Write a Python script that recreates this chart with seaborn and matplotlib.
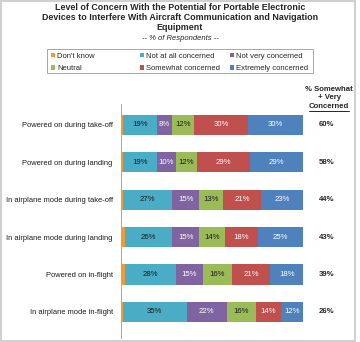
import matplotlib
matplotlib.use("Agg")
import matplotlib.pyplot as plt
from matplotlib.patches import Patch, Rectangle
from matplotlib.lines import Line2D
import seaborn as sns
import pandas as pd
import numpy as np

categories = [
    "Powered on during take-off",
    "Powered on during landing",
    "In airplane mode during take-off",
    "In airplane mode during landing",
    "Powered on in-flight",
    "In airplane mode in-flight",
]
series_names = ["Don't know", "Not at all concerned", "Not very concerned",
                "Neutral", "Somewhat concerned", "Extremely concerned"]
dont_know = [1, 1, 1, 2, 2, 1]
not_at_all = [19, 19, 27, 26, 28, 35]
not_very = [8, 10, 15, 15, 15, 22]
neutral = [12, 12, 13, 14, 16, 16]
somewhat = [30, 29, 21, 18, 21, 14]
extremely = [30, 29, 23, 25, 18, 12]
somewhat_very = ["60%", "58%", "44%", "43%", "39%", "26%"]

colors = ["#F59A2C", "#4BACC6", "#8064A2", "#9BBB59", "#C0504D", "#4F81BD"]
text_colors = [None, "#1a1a1a", "white", "#1a1a1a", "white", "white"]

sns.set_style("white")
plt.rcParams["font.family"] = ["Liberation Sans", "DejaVu Sans"]

series = [dont_know, not_at_all, not_very, neutral, somewhat, extremely]
df = pd.DataFrame({"cat": categories})
cum = np.zeros(len(categories))
lefts = []
for s in series:
    lefts.append(cum.copy())
    cum = cum + np.array(s)

fig = plt.figure(figsize=(3.6, 3.42), dpi=100)
W, H = 360, 342
ax = fig.add_axes([121 / W, 1 - 338 / H, (303 - 121) / W, (338 - 104) / H])

# draw cumulative layers from the total down so each shows its segment
for i in range(len(series) - 1, -1, -1):
    df["v"] = lefts[i] + np.array(series[i])
    sns.barplot(data=df, x="v", y="cat", color=colors[i], orient="h",
                width=0.54, ax=ax, saturation=1, linewidth=0, zorder=2 + (len(series) - i))

for i, s in enumerate(series):
    if i == 0:
        continue
    for j, v in enumerate(s):
        ax.text(lefts[i][j] + v / 2, j, f"{v}%", ha="center", va="center",
                fontsize=5.6, color=text_colors[i], zorder=20)

for j, t in enumerate(somewhat_very):
    ax.text(113, j, t, ha="center", va="center", fontsize=5.6,
            fontweight="bold", clip_on=False)

ax.set_xlim(0, 100)
ax.set_ylim(5.70, -0.56)
ax.set_xlabel("")
ax.set_ylabel("")
ax.set_xticks([])
ax.set_yticks(range(len(categories)))
ax.set_yticklabels(categories, fontsize=5.4, color="#1a1a1a")
ax.tick_params(axis="y", which="major", length=0, pad=6)
ax.set_yticks(np.arange(-0.5, len(categories), 1.0), minor=True)
ax.tick_params(axis="y", which="minor", length=2.5, color="#999999", width=0.6)
for sp in ["top", "right", "bottom"]:
    ax.spines[sp].set_visible(False)
ax.spines["left"].set_color("#999999")
ax.spines["left"].set_linewidth(0.6)

# header of right column
hx = 329 / W
fig.text(hx, 1 - 89 / H, "% Somewhat", ha="center", va="center", fontsize=5.6, fontweight="bold")
fig.text(hx, 1 - 98 / H, "+ Very", ha="center", va="center", fontsize=5.6, fontweight="bold")
fig.text(hx, 1 - 106.5 / H, "Concerned", ha="center", va="center", fontsize=5.6, fontweight="bold")
fig.add_artist(Line2D([309 / W, 349 / W], [1 - 111 / H, 1 - 111 / H], color="black", lw=0.6))

# title
fig.text(0.5, 1 - 7.5 / H, "Level of Concern With the Potential for Portable Electronic",
         ha="center", va="center", fontsize=6.4, fontweight="bold")
fig.text(0.5, 1 - 17.5 / H, "Devices to Interfere With Aircraft Communication and Navigation",
         ha="center", va="center", fontsize=6.4, fontweight="bold")
fig.text(0.5, 1 - 27.5 / H, "Equipment", ha="center", va="center", fontsize=6.4, fontweight="bold")
fig.text(0.5, 1 - 38 / H, "-- % of Respondents --", ha="center", va="center",
         fontsize=5.5, fontstyle="italic")

# legend: frame plus three single-column legends at fixed positions
fig.add_artist(Rectangle((47 / W, 1 - 73 / H), (313 - 47) / W, 24 / H,
                         transform=fig.transFigure, fill=False,
                         edgecolor="#999999", lw=0.6))
columns = [[0, 3], [1, 4], [2, 5]]
col_x = [51, 140, 230]
for cx, col in zip(col_x, columns):
    handles = [Patch(facecolor=colors[k], edgecolor="none", label=series_names[k]) for k in col]
    fig.legend(handles=handles, ncol=1, loc="upper left",
               bbox_to_anchor=(cx / W, 1 - 52.5 / H), fontsize=5.5, frameon=False,
               handlelength=0.5, handleheight=0.5, handletextpad=0.3,
               borderpad=0.0, labelspacing=0.75, borderaxespad=0)

fig.add_artist(Rectangle((0.003, 0.003), 0.984, 0.994, transform=fig.transFigure,
                         fill=False, edgecolor="#d0d0d0", lw=1.5))

fig.savefig("out.png", dpi=100)
